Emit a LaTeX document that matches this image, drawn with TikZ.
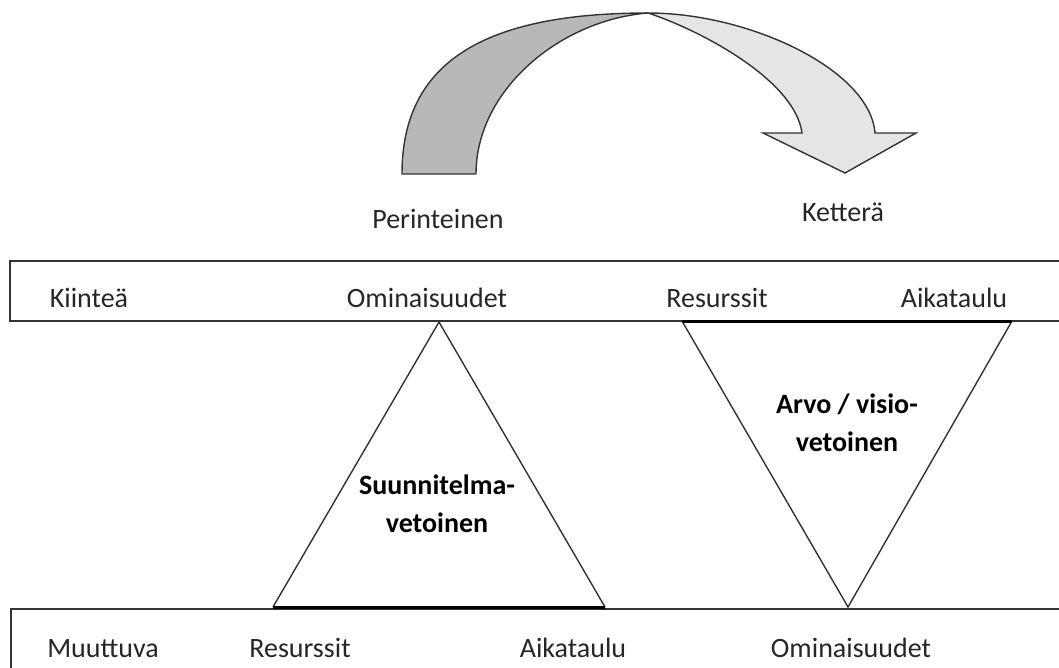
\documentclass[tikz,border=0pt]{standalone}
\usepackage{fontspec}
\setmainfont{Carlito}
\begin{document}
\begin{tikzpicture}[x=1pt,y=-1pt,
  edge/.style={draw=black!80,line width=1.4pt},
  base/.style={draw=black,line width=3pt},
  lbl/.style={anchor=base,inner sep=0pt,font=\fontsize{28}{34}\selectfont,text=black!85},
  bold/.style={anchor=base,inner sep=0pt,align=center,font=\fontsize{28}{38}\selectfont\bfseries}]
\useasboundingbox (0,0) rectangle (1059,668);
\clip (0,0) rectangle (1059,668);

% curved arrow: dark rising band and light falling band with head
\path[edge,fill=black!28,line join=round]
  (402,174) .. controls (402,64) and (481,13) .. (648,13)
  .. controls (560,20) and (476,90) .. (476,174) -- cycle;
\path[edge,fill=black!10,line join=miter]
  (648,13) .. controls (750,13) and (870,70) .. (875,133)
  -- (916,133) -- (845,173) -- (763,133) -- (802,133)
  .. controls (795,80) and (700,30) .. (648,13) -- cycle;

% captions above the bars
\node[lbl] (per) at (438,229) {Perinteinen};
\node[lbl] (ket) at (843,222) {Ketterä};

% fixed (top) and variable (bottom) bars
\draw[edge] (1070,261) -- (10,261) -- (10,321) -- (1070,321);
\draw[edge] (1070,609) -- (11,609) -- (11,680);

\node[lbl] (kiint) at (89,307) {Kiinteä};
\node[lbl] (omT) at (427,307) {Ominaisuudet};
\node[lbl] (resT) at (717,307) {Resurssit};
\node[lbl] (aikT) at (954,307) {Aikataulu};

\node[lbl] (muut) at (103,657) {Muuttuva};
\node[lbl] (resB) at (300,657) {Resurssit};
\node[lbl] (aikB) at (573,657) {Aikataulu};
\node[lbl] (omB) at (851,657) {Ominaisuudet};

% plan-driven triangle
\coordinate (p1) at (273,607);
\coordinate (p2) at (439,322);
\coordinate (p3) at (605,607);
\draw[edge,line join=miter] (p1) -- (p2) -- (p3);
\draw[base] (p1) -- (p3);
\node[bold] (plan) at (437,532) {Suunnitelma-\\vetoinen};

% value/vision-driven triangle
\coordinate (q1) at (682,321);
\coordinate (q2) at (848,607);
\coordinate (q3) at (1012,321);
\draw[edge,line join=miter] (q1) -- (q2) -- (q3);
\draw[base] (q1) -- (q3);
\node[bold] (arvo) at (847,451) {Arvo / visio-\\vetoinen};
\end{tikzpicture}
\end{document}
